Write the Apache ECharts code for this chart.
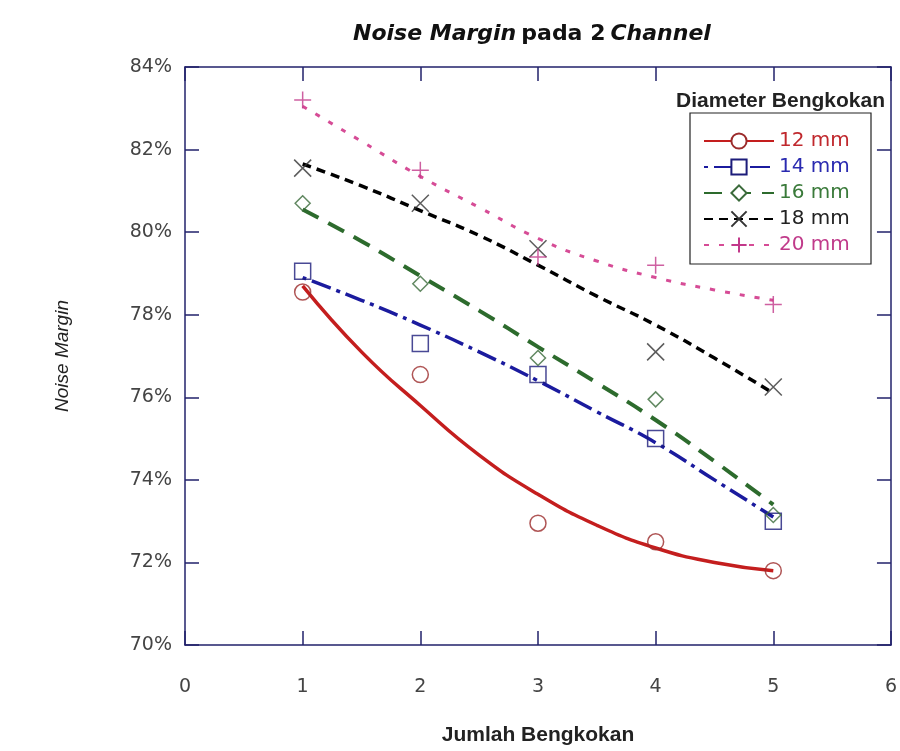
<!DOCTYPE html>
<html><head><meta charset="utf-8">
<script src="https://cdn.jsdelivr.net/npm/echarts@6/dist/echarts.min.js"></script>
<style>html,body{margin:0;padding:0;background:#fff}#c{width:900px;height:751px}</style>
</head><body><div id="c"></div>
<script>
// ---- data ----
const seriesNames = ['12 mm', '14 mm', '16 mm', '18 mm', '20 mm'];
const xTicks = [0, 1, 2, 3, 4, 5, 6];
const yTicks = [70, 72, 74, 76, 78, 80, 82, 84];
// measured points
const pointX = [1, 2, 3, 4, 5];
const pts12 = [78.55, 76.55, 72.95, 72.5, 71.8];
const pts14 = [79.05, 77.3, 76.55, 75.0, 73.0];
const pts16 = [80.7, 78.75, 76.95, 75.95, 73.15];
const pts18 = [81.55, 80.7, 79.6, 77.1, 76.25];
const pts20 = [83.2, 81.5, 79.4, 79.2, 78.25];
// trend (fit) lines
const fitX = [1, 1.5, 2, 2.5, 3, 3.5, 4, 4.5, 5];
const fit12 = [78.7, 77.1, 75.8, 74.6, 73.65, 72.9, 72.35, 72.0, 71.8];
const fit14 = [78.9, 78.35, 77.75, 77.1, 76.4, 75.65, 74.9, 74.0, 73.1];
const fit16 = [80.55, 79.78, 78.94, 78.1, 77.22, 76.35, 75.45, 74.45, 73.4];
const fit18 = [81.65, 81.12, 80.52, 79.92, 79.2, 78.45, 77.75, 76.95, 76.1];
const fit20 = [83.05, 82.2, 81.35, 80.6, 79.85, 79.3, 78.9, 78.6, 78.35];

// ---- styles ----
const pts = [pts12, pts14, pts16, pts18, pts20];
const fits = [fit12, fit14, fit16, fit18, fit20];
const lineColors = ['#c41e1e', '#1b1b9e', '#2d6b2d', '#000000', '#d64c96'];
const markerColors = ['#9b2b2b', '#1c1c7a', '#3a6a3a', '#333333', '#c2388a'];
const textColors = ['#c0282d', '#2a2ab0', '#3a7a3a', '#222222', '#c03a8a'];
const lineWidths = [3.5, 3.5, 4, 3.5, 3];
const lineTypes = ['solid', [4, 6, 20, 6], [18, 11], [9, 6], [5, 10]];
const symbols = ['circle', 'rect', 'diamond', 'path://M0,0L10,10M10,0L0,10', 'path://M5,0L5,10M0,5L10,5'];
const symbolSizes = [16, 16, 15, 17, 17];

const axisColor = '#22226b';
const numFont = 'DejaVu Sans';

const series = [];
seriesNames.forEach((n, i) => {
  series.push({
    name: n, type: 'line', smooth: true, showSymbol: false,
    symbol: symbols[i], symbolSize: symbolSizes[i],
    data: fitX.map((x, k) => [x, fits[i][k]]),
    lineStyle: { color: lineColors[i], width: lineWidths[i], type: lineTypes[i] },
    itemStyle: { color: '#fff', borderColor: markerColors[i], borderWidth: 1.5 },
    z: 2
  });
});
seriesNames.forEach((n, i) => {
  series.push({
    name: n, type: 'scatter',
    symbol: symbols[i], symbolSize: symbolSizes[i],
    data: pointX.map((x, k) => [x, pts[i][k]]),
    itemStyle: { color: 'rgba(0,0,0,0)', borderColor: markerColors[i], borderWidth: 1.5 },
    z: 3
  });
});

const chart = echarts.init(document.getElementById('c'));
chart.setOption({
  backgroundColor: '#fff',
  animation: false,
  title: [{
    text: '{bi|Noise Margin} {b|pada 2} {bi|Channel}',
    left: 348, top: 18,
    textStyle: {
      rich: {
        bi: { fontFamily: numFont, fontWeight: 'bold', fontStyle: 'italic', fontSize: 22, color: '#111' },
        b: { fontFamily: numFont, fontWeight: 'bold', fontSize: 22, color: '#111' }
      }
    }
  }, {
    text: 'Diameter Bengkokan',
    right: 10, top: 86,
    textStyle: { fontFamily: 'Liberation Sans', fontWeight: 'bold', fontSize: 21, color: '#222' }
  }],
  grid: { left: 185, right: 9, top: 67, bottom: 96, containLabel: false },
  legend: {
    orient: 'vertical', left: 690, top: 113,
    itemWidth: 70, itemHeight: 19, itemGap: 6,
    padding: [18, 14, 9, 13],
    borderColor: '#222', borderWidth: 1.2, backgroundColor: '#fff',
    selectedMode: false,
    data: seriesNames.map((n, i) => ({ name: n, textStyle: { color: textColors[i] } })),
    textStyle: { fontFamily: numFont, fontSize: 20, width: 78, lineHeight: 20, padding: [0, 0, 0, 0] }
  },
  xAxis: [{
    type: 'value', min: 0, max: 6, interval: 1,
    name: 'Jumlah Bengkokan', nameLocation: 'middle', nameGap: 80,
    nameTextStyle: { fontFamily: 'Liberation Sans', fontWeight: 'bold', fontSize: 21, color: '#222' },
    axisLine: { onZero: false, lineStyle: { color: axisColor, width: 1.5 } },
    axisTick: { inside: true, length: 14, lineStyle: { color: axisColor, width: 1.5 } },
    axisLabel: { margin: 33, fontFamily: numFont, fontSize: 19, color: '#444' },
    splitLine: { show: false }
  }, {
    type: 'value', min: 0, max: 6, interval: 1, position: 'top',
    axisLine: { show: true, onZero: false, lineStyle: { color: axisColor, width: 1.5 } },
    axisTick: { inside: true, length: 14, lineStyle: { color: axisColor, width: 1.5 } },
    axisLabel: { show: false }, splitLine: { show: false }
  }],
  yAxis: [{
    type: 'value', min: 70, max: 84, interval: 2,
    name: 'Noise Margin', nameLocation: 'middle', nameGap: 113, nameRotate: 90,
    nameTextStyle: { fontFamily: 'Liberation Sans', fontStyle: 'italic', fontSize: 19, color: '#222' },
    axisLine: { show: true, onZero: false, lineStyle: { color: axisColor, width: 1.5 } },
    axisTick: { inside: true, length: 14, lineStyle: { color: axisColor, width: 1.5 } },
    axisLabel: { margin: 13, fontFamily: numFont, fontSize: 19, color: '#444', formatter: '{value}%' },
    splitLine: { show: false }
  }, {
    type: 'value', min: 70, max: 84, interval: 2, position: 'right',
    axisLine: { show: true, onZero: false, lineStyle: { color: axisColor, width: 1.5 } },
    axisTick: { inside: true, length: 14, lineStyle: { color: axisColor, width: 1.5 } },
    axisLabel: { show: false }, splitLine: { show: false }
  }],
  series: series
});
</script>
</body></html>
